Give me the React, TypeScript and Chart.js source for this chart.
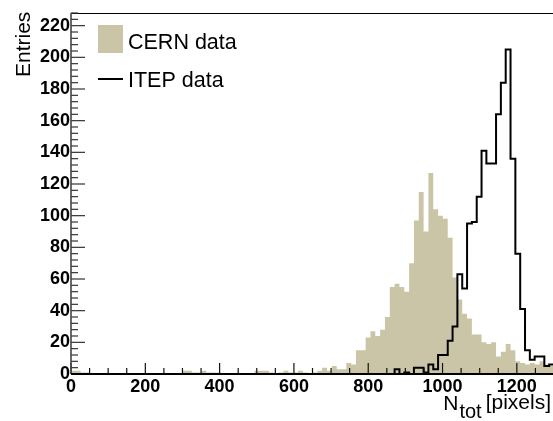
import React, { useEffect, useRef } from "react";
import { Chart, registerables } from "chart.js";

Chart.register(...registerables);

// ---- data (100 bins of width 13 from 0 to 1300) ----
const binWidth = 13;
const xMax = 1300;
const yMax = 228;

const cernCounts = [
  2, 2, 1, 1, 0, 0, 0, 0, 0, 0,
  0, 0, 0, 0, 0, 0, 0, 0, 0, 0,
  0, 0, 0, 2, 2, 1, 1, 2, 1, 1,
  1, 0, 0, 0, 0, 0, 0, 0, 2, 2,
  2, 1, 0, 1, 2, 1, 1, 2, 1, 0,
  1, 2, 4, 2, 5, 3, 3, 7, 6, 15,
  15, 23, 27, 24, 28, 36, 55, 57, 55, 52,
  70, 97, 115, 90, 127, 104, 100, 98, 86, 61,
  47, 38, 35, 25, 25, 20, 19, 20, 11, 14,
  19, 15, 8, 7, 6, 7, 6, 8, 6, 5,
];

const itepCounts = [
  0, 0, 0, 0, 0, 0, 0, 0, 0, 0,
  0, 0, 0, 0, 0, 0, 0, 0, 0, 0,
  0, 0, 0, 0, 0, 0, 0, 0, 0, 0,
  0, 0, 0, 0, 0, 0, 0, 0, 0, 0,
  0, 0, 0, 0, 0, 0, 0, 0, 0, 0,
  0, 0, 0, 0, 0, 0, 0, 0, 0, 0,
  0, 0, 0, 0, 0, 0, 0, 3, 0, 1,
  0, 4, 4, 1, 6, 3, 12, 12, 21, 30,
  63, 54, 95, 96, 112, 141, 133, 133, 164, 184,
  205, 136, 76, 41, 15, 9, 11, 11, 5, 6,
];

const xMajorTicks = [0, 200, 400, 600, 800, 1000, 1200];
const xMinorStep = 50;
const yMajorTicks = [0, 20, 40, 60, 80, 100, 120, 140, 160, 180, 200, 220];
const yMinorStep = 4;

const seriesNames = ["CERN data", "ITEP data"];
const yTitle = "Entries";
const xTitleMain = "N";
const xTitleSub = "tot";
const xTitleUnit = "[pixels]";

const tanColor = "#cbc5a8";
const FONT = '"Liberation Sans", Arial, Helvetica, sans-serif';

function toSteps(counts: number[]) {
  const pts = counts.map((c, i) => ({ x: i * binWidth, y: c }));
  pts.push({ x: counts.length * binWidth, y: counts[counts.length - 1] });
  return pts;
}

const rootStylePlugin = {
  id: "rootStyle",
  afterDatasetsDraw(chart: any) {
    const { ctx, chartArea: a, scales } = chart;
    const xs = scales.x;
    const ys = scales.y;
    ctx.save();
    // top frame
    ctx.strokeStyle = "#000";
    ctx.lineWidth = 1;
    ctx.beginPath();
    ctx.moveTo(a.left, a.top + 0.5);
    ctx.lineTo(a.right, a.top + 0.5);
    ctx.stroke();
    // x ticks
    ctx.strokeStyle = "#111";
    ctx.lineWidth = 1.2;
    for (let v = 0; v <= xMax; v += xMinorStep) {
      const len = xMajorTicks.includes(v) || v % 200 === 0 ? 11 : 6;
      const px = xs.getPixelForValue(v);
      ctx.beginPath();
      ctx.moveTo(px, a.bottom);
      ctx.lineTo(px, a.bottom - len);
      ctx.stroke();
    }
    // y ticks
    ctx.strokeStyle = "#333";
    for (let v = 0; v <= yMax; v += yMinorStep) {
      const len = v % 20 === 0 ? 14 : 7;
      const py = ys.getPixelForValue(v);
      ctx.beginPath();
      ctx.moveTo(a.left, py);
      ctx.lineTo(a.left + len, py);
      ctx.stroke();
    }
    // y axis line
    ctx.strokeStyle = "#444";
    ctx.lineWidth = 1.6;
    ctx.beginPath();
    ctx.moveTo(a.left, a.top);
    ctx.lineTo(a.left, a.bottom);
    ctx.stroke();
    // x axis line
    ctx.strokeStyle = "#000";
    ctx.lineWidth = 2;
    ctx.beginPath();
    ctx.moveTo(a.left, a.bottom);
    ctx.lineTo(a.right, a.bottom);
    ctx.stroke();
    ctx.restore();
  },
  afterDraw(chart: any) {
    const { ctx } = chart;
    ctx.save();
    ctx.fillStyle = "#000";
    ctx.textAlign = "left";
    ctx.textBaseline = "alphabetic";
    // legend
    ctx.fillStyle = tanColor;
    ctx.fillRect(98, 25, 25, 28);
    ctx.fillStyle = "#000";
    ctx.font = `21.5px ${FONT}`;
    ctx.fillText(seriesNames[0], 128, 48.5);
    ctx.strokeStyle = "#000";
    ctx.lineWidth = 2;
    ctx.beginPath();
    ctx.moveTo(98, 79);
    ctx.lineTo(123, 79);
    ctx.stroke();
    ctx.fillText(seriesNames[1], 128, 87);
    // y title
    ctx.save();
    ctx.translate(30, 77);
    ctx.rotate(-Math.PI / 2);
    ctx.font = `21px ${FONT}`;
    ctx.fillText(yTitle, 0, 0);
    ctx.restore();
    // x title
    ctx.textAlign = "right";
    ctx.font = `21px ${FONT}`;
    const rightEdge = 551;
    ctx.fillText(xTitleUnit, rightEdge, 409);
    const wUnit = ctx.measureText(xTitleUnit).width;
    ctx.font = `20px ${FONT}`;
    const subRight = rightEdge - wUnit - 4;
    ctx.fillText(xTitleSub, subRight, 418);
    const wSub = ctx.measureText(xTitleSub).width;
    ctx.font = `21px ${FONT}`;
    ctx.fillText(xTitleMain, subRight - wSub - 1, 410);
    ctx.restore();
  },
};

export default function App() {
  const ref = useRef<HTMLCanvasElement | null>(null);
  useEffect(() => {
    if (!ref.current) return;
    const tickFont = { family: FONT, size: 18, weight: "bold" as const };
    const chart = new Chart(ref.current, {
      type: "line",
      data: {
        datasets: [
          {
            label: seriesNames[1],
            data: toSteps(itepCounts),
            stepped: "before",
            borderColor: "#000",
            borderWidth: 2,
            pointRadius: 0,
            fill: false,
            order: 0,
          },
          {
            label: seriesNames[0],
            data: toSteps(cernCounts),
            stepped: "before",
            borderColor: "rgba(0,0,0,0)",
            borderWidth: 0,
            backgroundColor: tanColor,
            pointRadius: 0,
            fill: "origin",
            order: 1,
          },
        ],
      },
      options: {
        animation: false,
        responsive: false,
        devicePixelRatio: 1,
        layout: { padding: { top: 13, left: 0, right: 0, bottom: 0 } },
        plugins: { legend: { display: false }, tooltip: { enabled: false } },
        scales: {
          x: {
            type: "linear",
            min: 0,
            max: xMax,
            grid: { display: false, drawTicks: false },
            border: { display: false },
            afterBuildTicks: (s: any) => {
              s.ticks = xMajorTicks.map((v) => ({ value: v }));
            },
            afterFit: (s: any) => {
              s.height = 47;
            },
            ticks: {
              autoSkip: false,
              maxRotation: 0,
              padding: 2,
              color: "#000",
              font: tickFont,
              callback: (v: any) => String(v),
            },
          },
          y: {
            type: "linear",
            min: 0,
            max: yMax,
            grid: { display: false, drawTicks: false },
            border: { display: false },
            afterBuildTicks: (s: any) => {
              s.ticks = yMajorTicks.map((v) => ({ value: v }));
            },
            afterFit: (s: any) => {
              s.width = 71;
            },
            ticks: {
              autoSkip: false,
              padding: 1,
              color: "#000",
              font: tickFont,
              callback: (v: any) => String(v),
            },
          },
        },
      },
      plugins: [rootStylePlugin],
    });
    return () => chart.destroy();
  }, []);
  return (
    <div
      style={{
        position: "fixed",
        left: 0,
        top: 0,
        width: 553,
        height: 421,
        overflow: "hidden",
        background: "#fff",
      }}
    >
      <canvas ref={ref} width={554} height={421} style={{ display: "block" }} />
    </div>
  );
}
